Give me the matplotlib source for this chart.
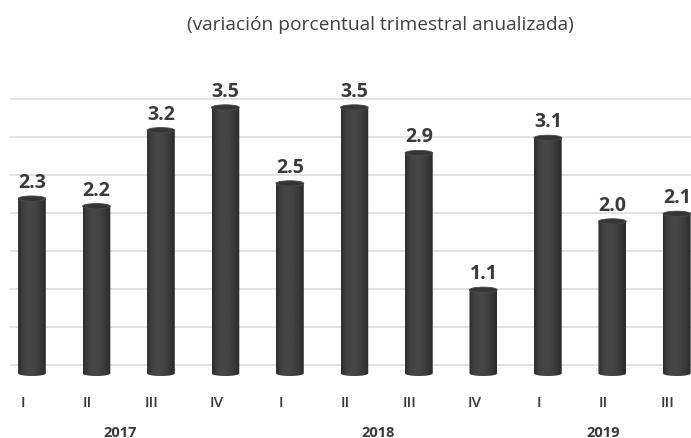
import matplotlib.pyplot as plt
import numpy as np
from matplotlib.path import Path
from matplotlib.patches import PathPatch, Ellipse
from matplotlib.transforms import blended_transform_factory, ScaledTranslation

title = '(variación porcentual trimestral anualizada)'
values = [2.3, 2.2, 3.2, 3.5, 2.5, 3.5, 2.9, 1.1, 3.1, 2.0, 2.1]
quarters = ['I', 'II', 'III', 'IV', 'I', 'II', 'III', 'IV', 'I', 'II', 'III']
years = ['2017', '2018', '2019']
year_groups = [[0, 1, 2, 3], [4, 5, 6, 7], [8, 9, 10]]

plt.rcParams['font.family'] = ['Open Sans', 'DejaVu Sans']
text_col = '#3a3a3a'

fig = plt.figure(figsize=(6.91, 4.39), dpi=100)
ax = fig.add_axes([0.0145, 0.123, 0.9855, 0.6663])
ax.set_yticks(np.arange(0, 3.51, 0.5))
ax.yaxis.grid(True, color='#e2e2e2', lw=1.4)
ax.set_axisbelow(True)
for s in ax.spines.values():
    s.set_visible(False)
ax.tick_params(left=False, bottom=False, labelleft=False, labelbottom=False)

# cylinder look
w = 0.43        # bar width (category units)
depth = 0.11    # 3D floor offset
cap = 0.07      # ellipse height
t = np.linspace(0, 1, 60)
shade = 0.17 + 0.11 * np.sin(np.pi * t ** 0.8)
grad = shade[np.newaxis, :]

x = np.arange(len(values))
for xi, v in zip(x, values):
    x0, x1 = xi - w / 2, xi + w / 2
    top = v - depth
    bot = -depth
    ang = np.linspace(np.pi, 2 * np.pi, 30)
    verts = [(x0, top), (x0, bot)]
    verts += list(zip(xi + w / 2 * np.cos(ang), bot + cap / 2 * np.sin(ang)))
    verts += [(x1, top), (x0, top)]
    codes = [Path.MOVETO] + [Path.LINETO] * (len(verts) - 2) + [Path.CLOSEPOLY]
    body = PathPatch(Path(verts, codes), fc='none', ec='none')
    ax.add_patch(body)
    im = ax.imshow(grad, cmap='gray', vmin=0, vmax=1, aspect='auto',
                   extent=(x0, x1, bot - cap, top), zorder=2, interpolation='bilinear')
    im.set_clip_path(body)
    ax.add_patch(Ellipse((xi, top), w, cap, fc='#353535', ec='#4a4a4a', lw=0.6, zorder=3))
    ax.annotate(f'{v:.1f}', (xi, top), xytext=(0, 12), textcoords='offset points',
                ha='center', va='center', fontsize=14, fontweight='bold', color=text_col)

ax.set_xlim(-0.34, 10.22)
ax.set_ylim(-0.25, 3.6)

# category labels (shifted left by the 3D perspective)
trans = blended_transform_factory(ax.transData, fig.transFigure) + \
    ScaledTranslation(-0.09, 0, fig.dpi_scale_trans)
for xi, q in zip(x, quarters):
    ax.text(xi, 0.082, q, transform=trans, ha='center', va='center',
            fontsize=11, color=text_col, fontweight='semibold')
for yr, grp in zip(years, year_groups):
    ax.text(np.mean(grp), 0.014, yr, transform=trans, ha='center', va='center',
            fontsize=10.5, color=text_col, fontweight='bold')

fig.text(0.551, 0.943, title, ha='center', va='center', fontsize=13.8, color='#404040')

plt.savefig('out.png', dpi=100)
